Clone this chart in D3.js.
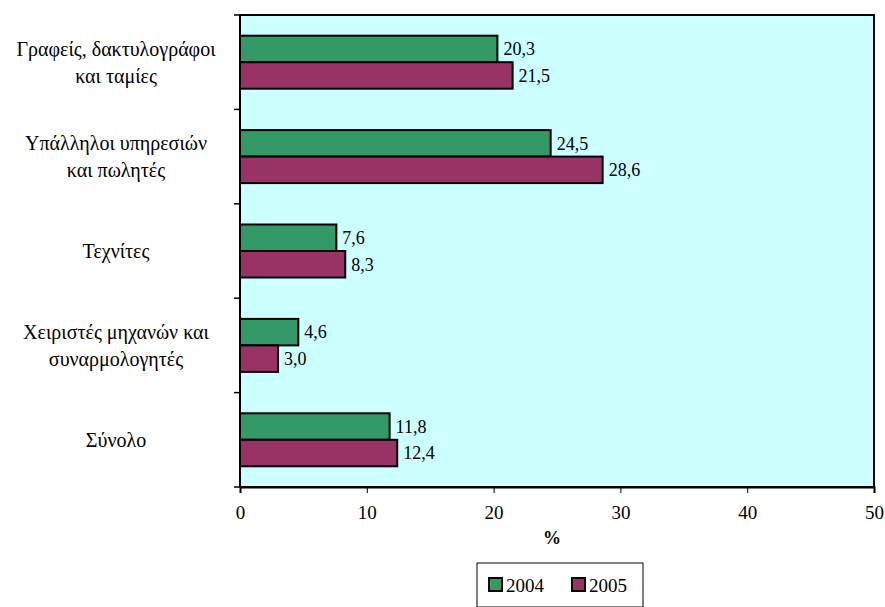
<!DOCTYPE html>
<html><head><meta charset="utf-8">
<script src="https://cdn.jsdelivr.net/npm/d3@7"></script>
<style>body{margin:0;background:#fff;}</style>
</head><body>
<svg id="c" width="885" height="607" font-family="'Liberation Serif', 'DejaVu Serif', serif"></svg>
<script>
const categories = [["Γραφείς, δακτυλογράφοι","και ταμίες"],["Υπάλληλοι υπηρεσιών","και πωλητές"],["Τεχνίτες"],["Χειριστές μηχανών και","συναρμολογητές"],["Σύνολο"]];
const series = ["2004","2005"];
const values2004 = [20.3,24.5,7.6,4.6,11.8];
const values2005 = [21.5,28.6,8.3,3.0,12.4];
const xTicks = [0,10,20,30,40,50];
const colors = ["#339966","#993366"];
const FF = "'Liberation Serif', 'DejaVu Serif', serif";

const svg = d3.select("#c");
const L=240,R=874,T=15,B=487;
const x = d3.scaleLinear().domain([0,50]).range([L,R]);
const y = d3.scaleBand().domain(d3.range(categories.length)).range([T,B]);
const bh = 26.5;

svg.append("rect").attr("x",L).attr("y",T).attr("width",R-L).attr("height",B-T).attr("fill","#CCFFFF").attr("stroke","#000").attr("stroke-width",2);

const data = [values2004, values2005];
data.forEach((vals,si)=>{
  vals.forEach((v,i)=>{
    const cy = y(i)+y.bandwidth()/2;
    const y0 = cy - bh + si*bh;
    svg.append("rect").attr("x",x(0)).attr("y",y0).attr("width",x(v)-x(0)).attr("height",bh)
      .attr("fill",colors[si]).attr("stroke","#000").attr("stroke-width",2);
    svg.append("text").attr("x",x(v)+6).attr("y",y0+bh/2).attr("dy","0.35em").attr("font-family",FF)
      .attr("font-size",18).text(d3.format(".1f")(v).replace(".",","));
  });
});

const ya = svg.append("g");
ya.append("line").attr("x1",L).attr("x2",L).attr("y1",T).attr("y2",B).attr("stroke","#000").attr("stroke-width",2);
d3.range(categories.length+1).forEach(i=>{
  const yy = T + i*y.step();
  ya.append("line").attr("x1",L-6).attr("x2",L).attr("y1",yy).attr("y2",yy).attr("stroke","#000").attr("stroke-width",1.5);
});
categories.forEach((lines,i)=>{
  const cy = y(i)+y.bandwidth()/2;
  const lh = 27;
  const t = svg.append("text").attr("text-anchor","middle").attr("font-size",20).attr("font-family",FF);
  lines.forEach((ln,j)=>{
    t.append("tspan").attr("x",116).attr("y",cy + (j-(lines.length-1)/2)*lh).attr("dy","0.35em").text(ln);
  });
});

const xa = svg.append("g").attr("transform",`translate(0,${B})`)
  .call(d3.axisBottom(x).tickValues(xTicks).tickSize(6).tickPadding(13));
xa.attr("font-family",FF);
xa.select(".domain").attr("stroke-width",2);
xa.selectAll("text").attr("font-size",19).attr("fill","#000");
svg.append("text").attr("x",(L+R)/2 - 5).attr("y",544).attr("text-anchor","middle").attr("font-family",FF).attr("font-size",18).attr("font-weight","bold").text("%");

const lg = svg.append("g");
lg.append("rect").attr("x",477).attr("y",563).attr("width",166).attr("height",44).attr("fill","#fff").attr("stroke","#000").attr("stroke-width",1);
series.forEach((s,i)=>{
  const lx = 489 + i*83;
  lg.append("rect").attr("x",lx).attr("y",578).attr("width",13).attr("height",13).attr("fill",colors[i]).attr("stroke","#000").attr("stroke-width",2);
  lg.append("text").attr("x",lx+17).attr("y",585).attr("dy","0.35em").attr("font-family",FF).attr("font-size",19).text(s);
});
</script>
</body></html>
